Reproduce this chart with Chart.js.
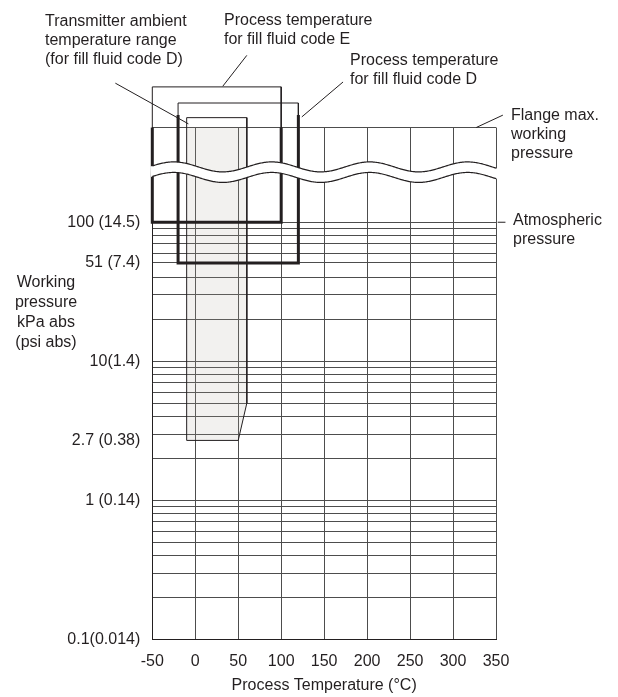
<!DOCTYPE html>
<html lang="en">
<head>
  <meta charset="UTF-8">
  <title>Working pressure vs process temperature</title>
  <script src="https://cdn.jsdelivr.net/npm/chart.js"></script>
  <style>
body {
  margin: 0;
  background: #fff;
  font-family: "Liberation Sans", Arial, sans-serif;
  color: #231f20;
}
.wrap {
  position: relative;
  width: 618px;
  height: 697px;
}
.note {
  position: absolute;
  font-size: 16px;
  line-height: 19.2px;
  white-space: nowrap;
}
.ytitle {
  position: absolute;
  left: 0;
  top: 272px;
  width: 92px;
  text-align: center;
  font-size: 16px;
  line-height: 20px;
}
  </style>
</head>
<body>
  <div class="wrap">
    <canvas id="chart"></canvas>
    <div class="note" style="left:45px; top:11px">Transmitter ambient<br>temperature range<br>(for fill fluid code D)</div>
    <div class="note" style="left:224px; top:9.5px">Process temperature<br>for fill fluid code E</div>
    <div class="note" style="left:350px; top:49.5px">Process temperature<br>for fill fluid code D</div>
    <div class="note" style="left:511px; top:104.5px">Flange max.<br>working<br>pressure</div>
    <div class="note" style="left:513px; top:209.5px">Atmospheric<br>pressure</div>
    <div class="ytitle">Working<br>pressure<br>kPa abs<br>(psi abs)</div>
  </div>
  <script>
    // temperature axis, deg C
    var tempMin = -50;
    var tempMax = 350;
    var tempStep = 50;

    // pressure axis, kPa abs (log). values above 100 sit beyond the axis break
    var pressMin = 0.1;
    var flangeTop = 480;
    var pressGrid = [0.1, 0.2, 0.3, 0.4, 0.5, 0.6, 0.7, 0.8, 0.9,
                     1, 2, 3, 4, 5, 6, 7, 8, 9,
                     10, 20, 30, 40, 51, 60, 70, 80, 90, 100];
    var pressLabelValues = [0.1, 1, 2.7, 10, 51, 100];
    var pressLabelTexts = ['0.1(0.014)', '1 (0.14)', '2.7 (0.38)', '10(1.4)', '51 (7.4)', '100 (14.5)'];

    // fill fluid code E: process temperature range, thick box down to 100 kPa
    var codeETemp = [-50, -50, 100, 100];
    var codeEPress = [flangeTop, 100, 100, flangeTop];
    var codeEBracketTemp = [-50, -50, 100, 100];
    var codeEBracketPress = [flangeTop, 940, 940, flangeTop];

    // fill fluid code D: process temperature range, thick box down to 51 kPa
    var codeDTemp = [-20, -20, 120, 120];
    var codeDPress = [590, 51, 51, 590];
    var codeDBracketTemp = [-20, -20, 120, 120];
    var codeDBracketPress = [590, 720, 720, 590];

    // transmitter ambient temperature range (code D)
    var ambientTemp = [-10, 60, 60, 50, -10, -10];
    var ambientPress = [565, 565, 5, 2.7, 2.7, 565];

    // leader lines from the notes: [temp, kPa] pairs
    var leaders = [
      [[-93, 1000], [-8, 510]],
      [[60, 1585], [32, 950]],
      [[172, 1020], [124, 572]],
      [[358, 589], [327, flangeTop]],
      [[352, 100], [361, 100]]
    ];

    // axis break band (virtual kPa above 100)
    var breakUpper = 250;
    var breakLower = 210;
    var waveAmp = 5;
    var wavePeriod = 114;
    var waveLowAt = 32;

    function pts(xs, ys) {
      return xs.map(function(x, i) { return {x: x, y: ys[i]}; });
    }

    function outline(data, width) {
      return {
        data: data,
        borderColor: '#231f20',
        borderWidth: width,
        pointRadius: 0,
        fill: false,
        tension: 0,
        clip: false
      };
    }

    var datasets = [];
    leaders.forEach(function(seg) {
      datasets.push(outline([{x: seg[0][0], y: seg[0][1]}, {x: seg[1][0], y: seg[1][1]}], 1));
    });
    datasets.push(outline(pts(codeETemp, codeEPress), 3));
    datasets.push(outline(pts(codeDTemp, codeDPress), 3));
    datasets.push(outline(pts(codeEBracketTemp, codeEBracketPress), 1));
    datasets.push(outline(pts(codeDBracketTemp, codeDBracketPress), 1));
    var amb = outline(pts(ambientTemp, ambientPress), 1);
    amb.fill = 'shape';
    amb.backgroundColor = 'rgba(180,170,160,0.17)';
    datasets.push(amb);

    var yTickValues = pressGrid.concat([2.7, flangeTop]).sort(function(a, b) { return a - b; });

    var breakPlugin = {
      id: 'axisBreak',
      afterDatasetsDraw: function(chart) {
        var ctx = chart.ctx;
        var a = chart.chartArea;
        var xs = chart.scales.x;
        var ys = chart.scales.y;
        var yUp = ys.getPixelForValue(breakUpper);
        var yLo = ys.getPixelForValue(breakLower);
        function wave(px, base) {
          var t = xs.getValueForPixel(px);
          return base + waveAmp * Math.cos(2 * Math.PI * (t - waveLowAt) / wavePeriod);
        }
        var px;
        ctx.save();
        ctx.beginPath();
        for (px = a.left - 2; px <= a.right + 2; px++) {
          if (px === a.left - 2) ctx.moveTo(px, wave(px, yUp)); else ctx.lineTo(px, wave(px, yUp));
        }
        for (px = a.right + 2; px >= a.left - 2; px--) ctx.lineTo(px, wave(px, yLo));
        ctx.closePath();
        ctx.fillStyle = '#fff';
        ctx.fill();
        ctx.strokeStyle = '#231f20';
        ctx.lineWidth = 1.2;
        [yUp, yLo].forEach(function(base) {
          ctx.beginPath();
          for (px = a.left; px <= a.right + 1; px++) {
            if (px === a.left) ctx.moveTo(px, wave(px, base)); else ctx.lineTo(px, wave(px, base));
          }
          ctx.stroke();
        });
        ctx.restore();
      }
    };

    var fontSpec = {family: '"Liberation Sans", Arial, sans-serif', size: 16};

    new Chart(document.getElementById('chart'), {
      type: 'line',
      data: {datasets: datasets},
      plugins: [breakPlugin],
      options: {
        responsive: true,
        maintainAspectRatio: false,
        animation: false,
        layout: {padding: {left: 0, top: 127.5, right: 122, bottom: 0}},
        plugins: {
          legend: {display: false},
          tooltip: {enabled: false}
        },
        scales: {
          x: {
            type: 'linear',
            min: tempMin,
            max: tempMax,
            afterFit: function(s) { s.height = 57.5; },
            ticks: {stepSize: tempStep, padding: 12, color: '#231f20', font: fontSpec},
            grid: {color: '#4d4d4d', lineWidth: 1, drawTicks: false},
            border: {color: '#231f20'},
            title: {
              display: true,
              text: 'Process Temperature (°C)',
              color: '#231f20',
              font: fontSpec,
              padding: {top: 0, bottom: 2}
            }
          },
          y: {
            type: 'logarithmic',
            min: pressMin,
            max: flangeTop,
            afterFit: function(s) { s.width = 152.3; },
            afterBuildTicks: function(s) {
              s.ticks = yTickValues.map(function(v) { return {value: v}; });
            },
            ticks: {
              autoSkip: false,
              padding: 12,
              color: '#231f20',
              font: fontSpec,
              callback: function(v) {
                var i = pressLabelValues.indexOf(v);
                return i >= 0 ? pressLabelTexts[i] : '';
              }
            },
            grid: {
              drawTicks: false,
              lineWidth: 1,
              color: function(c) {
                return c.tick && c.tick.value === 2.7 ? 'rgba(0,0,0,0)' : '#4d4d4d';
              }
            },
            border: {color: '#231f20'}
          }
        }
      }
    });
  </script>
</body>
</html>
